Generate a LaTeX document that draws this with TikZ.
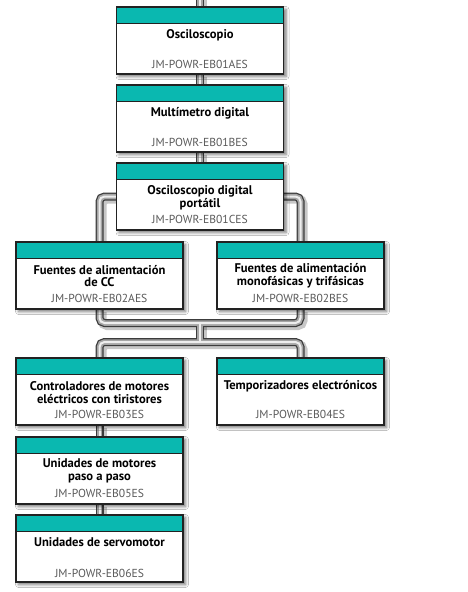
\documentclass[tikz,border=0pt]{standalone}
\usepackage{fontspec}
\setmainfont{PT Sans}
\usetikzlibrary{shadows.blur,backgrounds}

\definecolor{header}{RGB}{10,184,176}
\definecolor{frame}{RGB}{34,34,34}
\definecolor{codegray}{RGB}{90,90,90}
\definecolor{pipeedge}{RGB}{60,60,60}
\definecolor{pipemid}{RGB}{165,165,165}
\definecolor{pipecore}{RGB}{238,238,238}

\tikzset{
  modbox/.style={draw=frame, line width=1.3pt, fill=white,
    minimum width=167pt, minimum height=67pt, inner sep=0pt,
    blur shadow={shadow xshift=2.5pt, shadow yshift=-2.5pt,
                 shadow blur radius=3pt, shadow opacity=55},
    path picture={
      \fill[header] (path picture bounding box.north west)
        rectangle ([yshift=-16.5pt]path picture bounding box.north east);
      \draw[frame, line width=0.9pt]
        ([yshift=-16.5pt]path picture bounding box.north west)
        -- ([yshift=-16.5pt]path picture bounding box.north east);}},
  ttl/.style={font=\bfseries\fontsize{12.6}{12.8}\selectfont, align=center,
    inner sep=0pt, text=black},
  code/.style={font=\fontsize{11.6}{13}\selectfont, text=codegray, inner sep=0pt},
  pipeshadow/.style={draw=black, opacity=0.22, line width=9pt, rounded corners=5pt,
    transform canvas={shift={(2.5pt,-2.5pt)}}},
  pipeouter/.style={draw=pipeedge, line width=8pt, rounded corners=5pt},
  pipemiddle/.style={draw=pipemid, line width=5.5pt, rounded corners=5pt},
  pipeinner/.style={draw=pipecore, line width=2pt, rounded corners=5pt},
}

% name, x, top, title, title offset, code, code offset
\newcommand\modunit[7]{%
  \node[modbox] (#1) at (#2,#3+33.5) {};
  \node[ttl] (#1t) at (#2,#3+#5) {#4};
  \node[code] (#1c) at (#2,#3+#7) {#6};
}

% the whole connector network, drawn once per layer
\newcommand\pipenet[1]{%
  \draw[#1] (topend) -- (b1.north);
  \draw[#1] (b1.south) -- (b2.north);
  \draw[#1] (b2.south) -- (b3.north);
  \draw[#1] (b3.west) -| (b4.north);
  \draw[#1] (b3.east) -| (b5.north);
  \draw[#1] (b4.south) |- (j1) -| (b5.south);
  \draw[#1] (j1) -- (j2);
  \draw[#1] (b6.north) |- (j2) -| (b7.north);
  \draw[#1] (b6.south) -- (b8.north);
  \draw[#1] (b8.south) -- (b9.north);
}

\begin{document}
\begin{tikzpicture}[x=1pt, y=-1pt]
  \useasboundingbox (0,0) rectangle (467,592);

  \modunit{b1}{200}{7}{Osciloscopio}{28.5}{JM-POWR-EB01AES}{57.5}
  \modunit{b2}{200}{85}{Multímetro digital}{28.5}{JM-POWR-EB01BES}{57.5}
  \modunit{b3}{200}{163}{Osciloscopio digital\\portátil}{34.5}{JM-POWR-EB01CES}{56.5}
  \modunit{b4}{99.5}{242}{Fuentes de alimentación\\de CC}{34}{JM-POWR-EB02AES}{56}
  \modunit{b5}{300.5}{242}{Fuentes de alimentación\\monofásicas y trifásicas}{34}{JM-POWR-EB02BES}{56}
  \modunit{b6}{99.5}{358}{Controladores de motores\\eléctricos con tiristores}{34.5}{JM-POWR-EB03ES}{56.5}
  \modunit{b7}{300.5}{358}{Temporizadores electrónicos}{28}{JM-POWR-EB04ES}{56.5}
  \modunit{b8}{99.5}{437}{Unidades de motores\\paso a paso}{34}{JM-POWR-EB05ES}{56}
  \modunit{b9}{99.5}{515}{Unidades de servomotor}{27.5}{JM-POWR-EB06ES}{58}

  \coordinate (topend) at (200,-3);
  \coordinate (j1) at (200,323);
  \coordinate (j2) at (200,342);

  \begin{scope}[on background layer]
    \fill[white] (0,0) rectangle (467,592);
    \pipenet{pipeshadow}
    \pipenet{pipeouter}
    \pipenet{pipemiddle}
    \pipenet{pipeinner}
  \end{scope}
\end{tikzpicture}
\end{document}
